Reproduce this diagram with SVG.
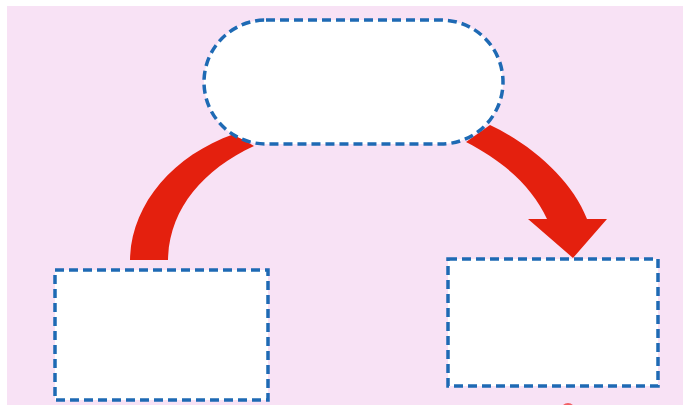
<svg xmlns="http://www.w3.org/2000/svg" width="683" height="405" viewBox="0 0 683 405">
<style>
.box{fill:#fff;stroke:#1e6ab4;stroke-width:3.5;stroke-dasharray:9 5}
.arr{fill:#e4200e}
</style>
<rect x="0" y="0" width="683" height="405" fill="#fff"/>
<rect x="7" y="6" width="676" height="399" fill="#f8e2f5"/>
<g id="connectors">
<path class="arr" d="M130,260 C131,205 172,156 234,134 L254,146 C202,170 169,210 168,260 Z"/>
<path class="arr" d="M466,142 L490,125 C532,145 572,180 587,219 L607,219 L573,258 L528,219 L547,219 C533,188 505,162 466,142 Z"/>
</g>
<g id="top"><rect class="box" x="204" y="20" width="299" height="124" rx="62" ry="62"/></g>
<g id="left"><rect class="box" x="55" y="270" width="213" height="130"/></g>
<g id="right"><rect class="box" x="448" y="259" width="210" height="127"/></g>
<circle cx="568" cy="410" r="7" fill="#f04040" opacity="0.8"/>
</svg>
